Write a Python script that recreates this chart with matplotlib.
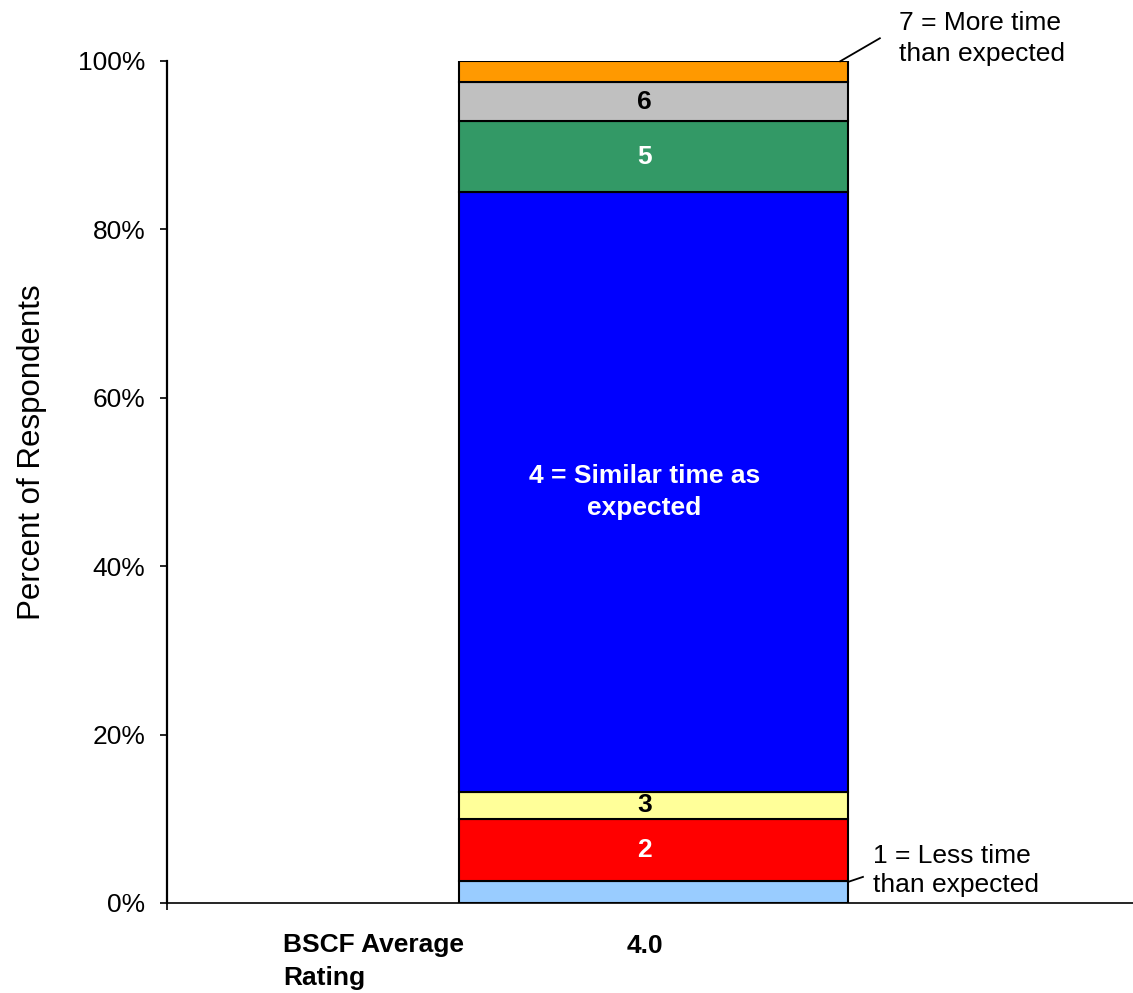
import matplotlib
matplotlib.use("Agg")
import matplotlib.pyplot as plt
import matplotlib.transforms as mtransforms
import numpy as np

plt.rcParams['font.family'] = ['Liberation Sans', 'DejaVu Sans']

# Share of respondents for each rating (1 = less time ... 7 = more time), in percent
ratings = [1, 2, 3, 4, 5, 6, 7]
shares = [2.65, 7.35, 3.17, 71.3, 8.35, 4.66, 2.49]
colors = ['#99CCFF', '#FF0000', '#FFFF99', '#0000FF', '#339966', '#C0C0C0', '#FF9900']
segment_labels = ['', '2', '3', '4 = Similar time as\nexpected', '5', '6', '']
label_colors = ['black', 'white', 'black', 'white', 'white', 'black', 'black']
low_note = '1 = Less time\nthan expected'
high_note = '7 = More time\nthan expected'
category_title = 'BSCF Average\nRating'
y_ticks = [0, 20, 40, 60, 80, 100]
y_tick_labels = ['0%', '20%', '40%', '60%', '80%', '100%']

average = sum(r * s for r, s in zip(ratings, shares)) / sum(shares)

W, H = 1133, 993
fig = plt.figure(figsize=(W / 100, H / 100), dpi=100)
ax = fig.add_axes([167 / W, 90 / H, (W - 167) / W, 842 / H])

bar_w = 0.4027
x0 = 0.0
text_x = x0 - 0.0093
bottom = 0.0
mids = []
for s, c in zip(shares, colors):
    ax.bar(x0, s, width=bar_w, bottom=bottom, color=c, edgecolor='black',
           linewidth=1.5, zorder=3)
    mids.append(bottom + s / 2)
    bottom += s

for lab, col, m in zip(segment_labels, label_colors, mids):
    if lab:
        ax.text(text_x, m, lab, ha='center', va='center', color=col,
                fontsize=19, fontweight='bold', linespacing=1.38, zorder=4)

ax.set_xlim(-0.5036, 0.4964)
ax.set_ylim(0, 100)

ax.set_yticks(y_ticks)
ax.set_yticklabels(y_tick_labels, fontsize=19)
ax.tick_params(axis='y', direction='out', length=5, width=1.2, pad=10.5)
ax.set_xticks([-0.5036])
ax.set_xticklabels([''])
ax.tick_params(axis='x', direction='out', length=5, width=1.2)

ax.spines['top'].set_visible(False)
ax.spines['right'].set_visible(False)
ax.spines['left'].set_linewidth(1.6)
ax.spines['bottom'].set_linewidth(1.2)

ax.set_ylabel('Percent of Respondents', fontsize=22.5)
ax.yaxis.set_label_coords(-120 / (W - 167), 0.5356)

# Leader lines and notes for the two ends of the scale
right = x0 + bar_w / 2
top = sum(shares)
ax.plot([right - 0.008, right + 0.033], [top, top + 2.73], color='black',
        linewidth=1.3, clip_on=False, zorder=5)
ax.text(right + 0.053, top + 2.7, high_note, ha='left', va='center',
        fontsize=19, linespacing=1.4, clip_on=False)

ax.plot([right, right + 0.0155], [shares[0] - 0.15, shares[0] + 0.45],
        color='black', linewidth=1.3, clip_on=False, zorder=5)
ax.text(right + 0.026, 3.85, low_note, ha='left', va='center',
        fontsize=19, linespacing=1.25, clip_on=False)

# Category row under the axis
trans = mtransforms.blended_transform_factory(ax.transData, ax.transAxes)
ax.text(-0.3835, -0.0695, category_title, transform=trans, ha='left',
        va='center', fontsize=19, fontweight='bold', linespacing=1.45)
ax.text(text_x, -0.0505, f'{average:.1f}', transform=trans, ha='center',
        va='center', fontsize=19, fontweight='bold')

fig.savefig('out.png', dpi=100)
